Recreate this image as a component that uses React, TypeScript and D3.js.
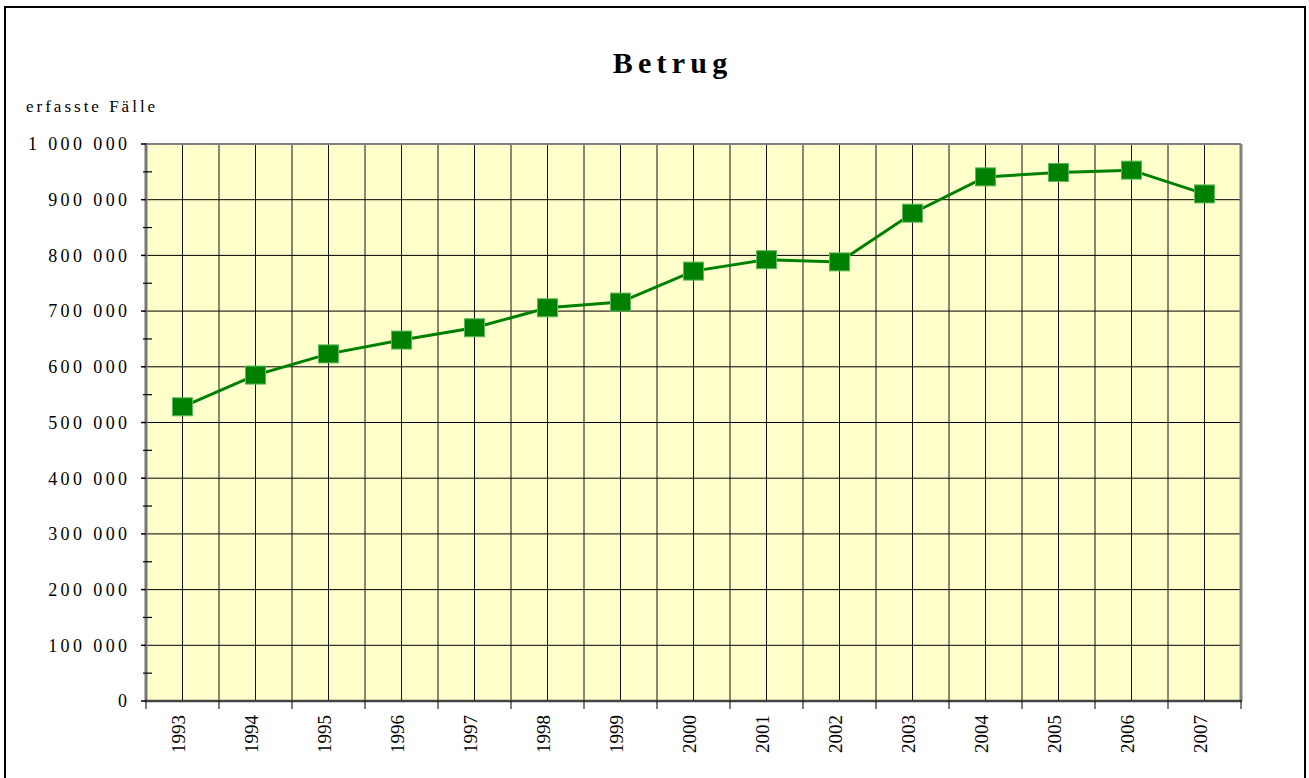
import React from 'react'
import * as d3 from 'd3'

const years = ['1993', '1994', '1995', '1996', '1997', '1998', '1999', '2000', '2001', '2002', '2003', '2004', '2005', '2006', '2007']
const cases = [528220, 585127, 623182, 648001, 670101, 705965, 716190, 771779, 792299, 788367, 875800, 940967, 948891, 953047, 910351]
const yTicks = [0, 100000, 200000, 300000, 400000, 500000, 600000, 700000, 800000, 900000, 1000000]
const minorTicks = [50000, 150000, 250000, 350000, 450000, 550000, 650000, 750000, 850000, 950000]

const W = 1309
const H = 778
const left = 146
const right = 1241
const top = 144
const bottom = 701
const serif = '"Liberation Serif", "Times New Roman", serif'

const fmt = (v: number) => d3.format(',')(v).replace(/,/g, ' ')

export default function App() {
	const x = d3.scaleBand().domain(years).range([left, right])
	const y = d3.scaleLinear().domain([0, 1000000]).range([bottom, top])
	const bw = x.bandwidth()

	const bounds = years.map((d) => x(d)!).concat([right])
	const vGrid = years
		.flatMap((d) => [x(d)!, x(d)! + bw / 2])
		.concat([right])
		.filter((v) => v > left + 1 && v < right - 1)

	const path = d3
		.line<number>()
		.x((d, i) => x(years[i])! + bw / 2)
		.y((d) => y(d))(cases)

	return (
		<svg width={W} height={H} style={{ position: 'absolute', left: 0, top: 0 }} fontFamily={serif}>
			<rect x={0} y={0} width={W} height={H} fill="#fff" />
			<rect x={5} y={7} width={1300} height={H + 10} fill="none" stroke="#000" strokeWidth={2} />

			<text x={672.6} y={73} textAnchor="middle" fontSize={30} fontWeight="bold" letterSpacing={5.2}>
				Betrug
			</text>
			<text x={26} y={112} fontSize={17} letterSpacing={3}>
				erfasste Fälle
			</text>

			<rect x={left} y={top} width={right - left} height={bottom - top} fill="#FFFFCC" />

			{yTicks.map((t) => (
				<line key={'h' + t} x1={left} x2={right} y1={y(t)} y2={y(t)} stroke="#000" strokeWidth={1} />
			))}
			{vGrid.map((v, i) => (
				<line key={'v' + i} x1={v} x2={v} y1={top} y2={bottom} stroke="#111" strokeWidth={1} />
			))}

			<line x1={left} x2={right} y1={top} y2={top} stroke="#808080" strokeWidth={2} />
			<line x1={right} x2={right} y1={top} y2={bottom} stroke="#808080" strokeWidth={3} />
			<line x1={left} x2={left} y1={top - 1} y2={bottom} stroke="#777" strokeWidth={3} />
			<line x1={left - 1} x2={right + 1} y1={bottom} y2={bottom} stroke="#444" strokeWidth={2.5} />

			{yTicks.map((t) => (
				<g key={'yt' + t}>
					<line x1={left - 5} x2={left} y1={y(t)} y2={y(t)} stroke="#000" strokeWidth={1.5} />
					<text x={130.5} y={y(t)} dy="0.35em" textAnchor="end" fontSize={18} letterSpacing={3.4}>
						{fmt(t)}
					</text>
				</g>
			))}
			{minorTicks.map((t) => (
				<line key={'mt' + t} x1={left - 3} x2={left + 6} y1={y(t)} y2={y(t)} stroke="#000" strokeWidth={1.2} />
			))}

			{bounds.map((b, i) => (
				<line key={'xt' + i} x1={b} x2={b} y1={bottom} y2={bottom + 8} stroke="#000" strokeWidth={1} />
			))}
			{years.map((d) => (
				<text
					key={'xl' + d}
					transform={`translate(${x(d)! + bw / 2 + 2},${715}) rotate(-90)`}
					textAnchor="end"
					fontSize={19}
				>
					{d}
				</text>
			))}

			<path d={path ?? ''} fill="none" stroke="#008000" strokeWidth={3} />
			{cases.map((c, i) => (
				<rect
					key={'m' + i}
					x={x(years[i])! + bw / 2 - 10}
					y={y(c) - 9}
					width={20}
					height={18}
					fill="#008000"
					stroke="#5cb85c"
					strokeWidth={1}
				/>
			))}
		</svg>
	)
}
